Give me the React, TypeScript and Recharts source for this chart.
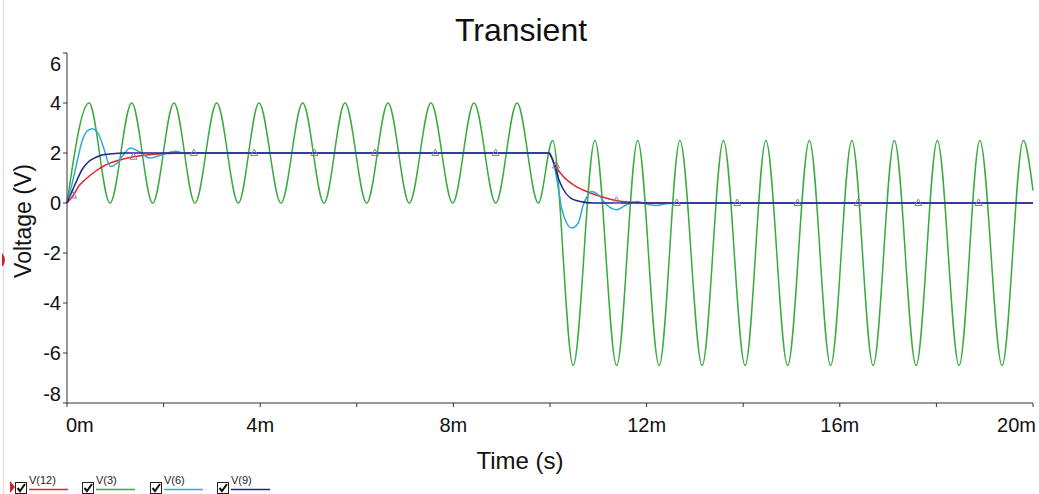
import { ComposedChart, Line, XAxis, YAxis } from "recharts";

// time in ms, voltage in V
const v3Time = [
  0, 0.455, 0.89, 1.34, 1.774, 2.215, 2.65, 3.1, 3.547, 3.975, 4.43, 4.88, 5.32, 5.755, 6.205, 6.646, 7.087, 7.536,
  7.985, 8.427, 8.876, 9.317, 9.758, 10.056, 10.48, 10.93, 11.38, 11.816, 12.26, 12.69, 13.15, 13.59, 14.04, 14.47,
  14.92, 15.37, 15.81, 16.25, 16.69, 17.13, 17.58, 18.02, 18.47, 18.9, 19.36, 19.8, 20,
];
const v3Volt = [
  0, 4, 0, 4, 0, 4, 0, 4, 0, 4, 0, 4, 0, 4, 0, 4, 0, 4, 0, 4, 0, 4, 0, 2.5, -6.5, 2.5, -6.5, 2.5, -6.5, 2.5, -6.5,
  2.5, -6.5, 2.5, -6.5, 2.5, -6.5, 2.5, -6.5, 2.5, -6.5, 2.5, -6.5, 2.5, -6.5, 2.5, 0.5,
];

const v12Time = [0, 0.14, 0.24, 0.38, 0.59, 0.79, 1.07, 1.38, 1.69, 1.97, 2.4, 10.0, 10.035, 10.14, 10.275, 10.48, 10.76, 11.035, 11.38, 11.7, 12.1, 20];
const v12Volt = [0, 0.33, 0.67, 0.94, 1.27, 1.51, 1.71, 1.85, 1.93, 1.97, 2, 2, 1.8, 1.4, 1.06, 0.73, 0.46, 0.27, 0.09, 0.03, 0, 0];

const v9Time = [0, 0.1, 0.21, 0.31, 0.45, 0.59, 0.72, 0.93, 1.2, 9.965, 10.035, 10.1, 10.17, 10.275, 10.41, 10.62, 10.9, 20];
const v9Volt = [0, 0.45, 0.93, 1.33, 1.66, 1.82, 1.92, 1.97, 2, 2, 1.82, 1.48, 1.01, 0.55, 0.22, 0.06, 0, 0];

const v6Time = [
  0, 0.1, 0.21, 0.31, 0.41, 0.52, 0.66, 0.76, 0.9, 1.04, 1.17, 1.31, 1.48, 1.72, 1.97, 2.24, 2.48, 2.8, 9.965, 10.1,
  10.17, 10.24, 10.345, 10.45, 10.585, 10.69, 10.79, 10.86, 11.0, 11.17, 11.38, 11.59, 11.79, 12.0, 12.2, 12.4, 12.7, 20,
];
const v6Volt = [
  0, 0.73, 1.66, 2.46, 2.86, 2.97, 2.73, 2.2, 1.46, 1.6, 1.93, 2.2, 2.07, 1.8, 1.93, 2.07, 1.97, 2, 2, 1.4, 0.6, -0.2,
  -0.8, -1.0, -0.8, -0.07, 0.33, 0.46, 0.33, -0.07, -0.27, -0.07, 0.06, -0.04, -0.1, -0.03, 0, 0,
];

// triangle markers sitting on V(12)
const markTime = [0.125, 1.375, 2.625, 3.875, 5.125, 6.375, 7.625, 8.875, 10.125, 11.375, 12.625, 13.875, 15.125, 16.375, 17.625, 18.875];
const markVolt = [0.3, 1.85, 2, 2, 2, 2, 2, 2, 1.5, 0.09, 0, 0, 0, 0, 0, 0];

const xTicks = [0, 2, 4, 6, 8, 10, 12, 14, 16, 18, 20];
const yTicks = [-8, -6, -4, -2, 0, 2, 4, 6];

const legendItems = [
  { name: "V(12)", color: "#e2282e", x: 15 },
  { name: "V(3)", color: "#3aab3e", x: 82 },
  { name: "V(6)", color: "#35a8d8", x: 150 },
  { name: "V(9)", color: "#22238c", x: 217 },
];

const FONT = '"Liberation Sans", Arial, sans-serif';

const toPoints = (t: number[], v: number[]) => t.map((x, i) => ({ t: x, v: v[i] }));

const XTick = (props: any) => {
  const { x, y, payload } = props;
  const val = payload.value;
  if (val % 4 !== 0) return <g />;
  let anchor = "middle";
  let dx = 0;
  if (val === 0) {
    anchor = "start";
    dx = -1;
  } else if (val === 20) {
    anchor = "end";
    dx = 3;
  }
  return (
    <text x={x + dx} y={y + 23} textAnchor={anchor} fontSize={20} fontFamily={FONT} fill="#111">
      {`${val}m`}
    </text>
  );
};

const YTick = (props: any) => {
  const { x, y, payload } = props;
  const val = payload.value;
  let dy = 0;
  if (val === 6) dy = 11;
  if (val === -8) dy = -9;
  return (
    <text x={x} y={y + dy + 7} textAnchor="end" fontSize={20} fontFamily={FONT} fill="#111">
      {val}
    </text>
  );
};

const Triangle = (props: any) => {
  const { cx, cy, index } = props;
  if (cx == null || cy == null) return <g key={index} />;
  return (
    <path
      key={index}
      d={`M${cx},${cy - 4} L${cx + 3.5},${cy + 2.5} L${cx - 3.5},${cy + 2.5} Z`}
      fill="none"
      stroke="#8a7fa6"
      strokeWidth={1}
    />
  );
};

export default function App() {
  return (
    <div style={{ position: "fixed", top: 0, left: 0, width: 1039, height: 494, background: "#fff" }}>
      <ComposedChart width={1039} height={494} margin={{ top: 53, right: 6, bottom: 61, left: 0 }}>
        <XAxis
          type="number"
          dataKey="t"
          domain={[0, 20]}
          ticks={xTicks}
          tick={<XTick />}
          tickSize={4}
          height={30}
          stroke="#333"
          interval={0}
        />
        <YAxis
          type="number"
          domain={[-8, 6]}
          ticks={yTicks}
          tick={<YTick />}
          tickSize={4}
          tickMargin={2}
          width={67}
          stroke="#333"
          interval={0}
        />
        <Line data={toPoints(v3Time, v3Volt)} dataKey="v" type="monotone" stroke="#3aab3e" strokeWidth={1.5} dot={false} isAnimationActive={false} />
        <Line data={toPoints(v12Time, v12Volt)} dataKey="v" type="monotone" stroke="#e2282e" strokeWidth={1.5} dot={false} isAnimationActive={false} />
        <Line data={toPoints(v6Time, v6Volt)} dataKey="v" type="monotone" stroke="#35a8d8" strokeWidth={1.5} dot={false} isAnimationActive={false} />
        <Line data={toPoints(v9Time, v9Volt)} dataKey="v" type="monotone" stroke="#22238c" strokeWidth={1.5} dot={false} isAnimationActive={false} />
        <Line
          data={toPoints(markTime, markVolt)}
          dataKey="v"
          stroke="none"
          strokeWidth={0}
          dot={(p: any) => <Triangle key={p.index} {...p} />}
          activeDot={false}
          isAnimationActive={false}
        />
      </ComposedChart>
      <svg width={1039} height={494} style={{ position: "absolute", top: 0, left: 0, pointerEvents: "none" }}>
        <line x1={3.5} y1={0} x2={3.5} y2={494} stroke="#e2e2e2" strokeWidth={1.5} />
        <path d="M2,253 Q8,260 2,267 Z" fill="#d0202a" />
        <path d="M10,481 L15,487 L10,493 Z" fill="#d0202a" />
        <text x={521} y={41} textAnchor="middle" fontSize={32} fontFamily={FONT} fill="#111">
          Transient
        </text>
        <text x={520} y={469} textAnchor="middle" fontSize={24} fontFamily={FONT} fill="#111">
          Time (s)
        </text>
        <text transform="translate(31,221) rotate(-90)" textAnchor="middle" fontSize={23} fontFamily={FONT} fill="#111">
          Voltage (V)
        </text>
        {legendItems.map((item) => (
          <g key={item.name}>
            <rect x={item.x + 0.5} y={482.5} width={11} height={11} fill="#fff" stroke="#222" strokeWidth={1} />
            <path d={`M${item.x + 2.5},${488} L${item.x + 5},${491} L${item.x + 10},${484}`} fill="none" stroke="#111" strokeWidth={2} />
            <text x={item.x + 14} y={484} fontSize={11} fontFamily={FONT} fill="#222">
              {item.name}
            </text>
            <line x1={item.x + 14} y1={489.5} x2={item.x + 53} y2={489.5} stroke={item.color} strokeWidth={1.5} />
          </g>
        ))}
      </svg>
    </div>
  );
}
